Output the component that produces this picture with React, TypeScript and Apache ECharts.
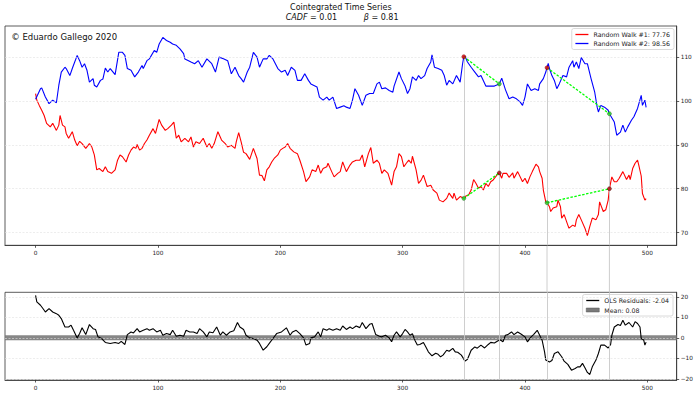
import React, { useEffect, useRef } from "react";
import * as echarts from "echarts";

// Random Walk #1 (red): [step, value]
const walk1: [number, number][] = [
  [0,101.7],[1,100.2],[3,99.0],[5,97.9],[7,96.7],[9,94.9],[12,94.1],[14,94.9],[17,93.3],[19,94.5],
  [20,96.7],[22,94.5],[24,94.1],[25,92.6],[27,91.5],[30,93.0],[32,91.1],[34,89.8],[36,90.8],[38,90.3],
  [41,89.2],[44,90.3],[46,89.5],[48,87.7],[50,84.3],[52,84.6],[55,83.9],[57,85.0],[59,83.9],[62,83.5],
  [65,84.3],[67,86.5],[69,87.7],[71,87.3],[74,86.1],[76,87.7],[78,88.8],[80,89.5],[82,89.2],[83,90.1],
  [85,88.8],[87,89.2],[89,90.3],[91,91.1],[93,92.2],[96,93.7],[98,92.6],[101,95.8],[103,94.5],[106,93.3],
  [108,93.7],[111,94.5],[113,95.2],[115,91.5],[117,92.2],[119,90.7],[122,91.5],[125,90.7],[127,91.8],[129,89.5],
  [131,90.7],[134,90.3],[137,91.5],[140,89.5],[142,90.3],[144,89.2],[146,90.3],[149,93.0],[152,91.1],[155,90.3],
  [157,89.5],[160,89.9],[163,89.2],[164,90.7],[166,92.8],[168,90.7],[170,88.3],[172,88.0],[175,86.7],[178,89.2],
  [181,86.9],[183,83.1],[185,83.0],[187,81.8],[189,84.3],[191,85.0],[193,86.1],[195,86.9],[198,87.7],[200,88.8],
  [202,89.2],[204,89.5],[206,90.3],[208,89.2],[211,88.4],[214,88.0],[216,86.5],[219,83.9],[221,81.6],[224,82.7],
  [226,84.3],[229,83.9],[231,85.4],[233,83.5],[235,84.6],[238,85.0],[239,85.8],[242,83.9],[244,82.7],[247,83.5],
  [249,83.9],[251,86.1],[254,83.9],[257,85.4],[259,86.1],[262,86.5],[265,86.5],[267,87.7],[269,85.0],[272,88.0],
  [274,89.4],[276,85.8],[279,86.5],[281,85.8],[283,83.5],[285,84.3],[288,83.5],[291,80.8],[293,83.9],[295,85.0],
  [297,88.0],[299,87.3],[301,85.0],[303,85.8],[305,86.5],[307,85.8],[308,87.4],[311,84.3],[313,81.2],[315,81.9],
  [317,83.1],[320,80.5],[323,80.8],[325,79.7],[328,79.0],[330,77.4],[333,77.0],[336,77.8],[338,79.0],[341,77.8],
  [342,79.0],[344,77.4],[347,78.2],[350,77.8],[351,78.2],[354,78.6],[356,79.7],[358,82.1],[360,81.2],[362,80.1],
  [364,80.5],[366,79.7],[368,81.2],[370,80.5],[372,81.6],[374,82.0],[377,83.1],[379,83.6],[381,82.4],[382,83.5],
  [385,83.5],[387,82.6],[390,83.6],[391,82.4],[394,83.9],[398,81.6],[400,82.4],[402,81.2],[404,82.7],[406,83.9],
  [409,85.6],[411,85.0],[412,83.9],[414,82.4],[415,79.7],[417,77.0],[418,76.8],[420,75.9],[421,74.8],[423,75.6],
  [426,75.9],[427,77.4],[429,75.9],[430,73.3],[432,74.1],[435,71.7],[436,71.0],[439,71.7],[441,71.4],[442,72.9],
  [444,74.1],[446,72.9],[449,71.0],[451,69.3],[453,71.4],[455,73.3],[458,72.9],[460,74.1],[461,77.0],[464,74.8],
  [466,75.2],[468,77.4],[469,80.0],[471,82.7],[473,81.6],[475,81.6],[477,82.4],[480,83.9],[483,82.1],[485,83.1],
  [486,82.1],[488,84.6],[490,85.8],[492,86.5],[493,85.4],[495,82.9],[496,78.9],[498,77.4],[499,77.76]
];

// Random Walk #2 (blue): [step, value]
const walk2: [number, number][] = [
  [0,100.4],[4,102.8],[5,103.0],[8,100.9],[11,99.4],[14,100.2],[17,99.6],[19,103.6],[21,106.6],[24,107.7],
  [25,107.4],[28,105.8],[30,107.4],[34,110.4],[36,109.2],[38,107.7],[40,108.5],[42,107.0],[44,104.3],[47,105.1],
  [48,103.6],[50,103.2],[53,104.7],[55,105.0],[57,107.5],[59,106.6],[61,107.4],[65,106.0],[68,111.1],[71,111.1],
  [73,110.4],[75,107.4],[78,107.0],[81,105.5],[84,106.6],[87,108.1],[88,107.4],[91,109.2],[93,109.6],[97,111.5],
  [99,111.1],[101,113.0],[104,114.5],[107,113.8],[110,113.4],[112,113.0],[115,112.7],[118,111.9],[121,110.8],[122,109.6],
  [125,109.2],[127,108.9],[130,108.5],[133,109.2],[136,107.7],[140,109.6],[144,108.5],[147,106.6],[150,110.0],[154,109.6],
  [157,109.2],[160,106.2],[163,107.7],[166,105.8],[168,105.1],[170,104.3],[173,106.6],[175,107.7],[178,111.1],[181,110.0],
  [183,107.7],[186,109.6],[189,109.6],[191,110.4],[194,109.6],[198,107.4],[201,106.6],[204,107.0],[206,105.8],[209,107.7],
  [212,107.0],[214,104.7],[217,104.7],[220,106.2],[223,104.7],[225,103.9],[230,103.2],[232,100.9],[235,100.2],[238,100.9],
  [240,100.2],[243,100.9],[246,98.3],[249,98.6],[252,98.9],[254,98.6],[257,98.3],[259,100.2],[261,102.8],[264,101.3],
  [267,99.0],[270,101.3],[273,101.7],[276,101.7],[279,103.9],[281,104.3],[283,102.8],[286,103.0],[289,102.4],[292,102.0],
  [293,103.4],[297,106.6],[299,105.1],[302,103.4],[304,101.7],[306,102.8],[308,105.5],[311,104.7],[313,105.8],[315,105.1],
  [318,105.8],[320,107.4],[323,108.9],[324,110.5],[326,107.7],[329,107.4],[332,107.0],[334,105.8],[336,103.6],[338,104.7],
  [341,103.9],[344,105.8],[347,104.3],[349,108.5],[350,110.1],[351,110.2],[353,108.9],[356,107.7],[359,106.6],[362,105.5],
  [364,105.8],[368,103.4],[371,103.4],[375,103.4],[379,103.9],[381,105.2],[384,102.6],[387,100.5],[390,100.9],[393,100.5],
  [396,99.8],[398,99.0],[400,100.9],[402,103.9],[405,102.4],[408,102.8],[411,102.4],[412,103.9],[415,105.1],[417,106.6],
  [418,107.6],[419,108.6],[420,107.4],[422,105.8],[424,104.7],[426,102.8],[428,103.9],[431,105.8],[434,105.5],[436,107.7],
  [439,109.2],[440,107.7],[442,108.9],[444,107.4],[446,109.9],[449,108.5],[451,108.5],[454,105.1],[457,102.0],[459,98.6],
  [460,97.5],[462,99.0],[465,98.6],[468,97.9],[469,97.1],[473,95.2],[475,92.2],[478,92.9],[480,94.5],[482,92.9],
  [484,94.1],[487,95.6],[489,96.4],[492,98.3],[495,101.3],[496,99.0],[498,100.2],[499,98.56]
];

// OLS residuals: [step, value]
const residuals: [number, number][] = [
  [0,20.7],[1,17.5],[4,15.9],[6,14.3],[8,12.6],[11,14.3],[14,12.6],[17,11.8],[19,11.0],[21,9.4],
  [24,5.3],[27,5.3],[29,6.2],[31,3.7],[34,0.0],[36,2.1],[38,4.9],[41,1.6],[44,6.5],[47,4.5],
  [49,4.1],[51,0.5],[54,-0.3],[57,-2.2],[61,-2.7],[65,-2.2],[68,-2.7],[70,-1.7],[73,-3.2],[75,1.6],
  [78,2.9],[80,2.4],[83,4.5],[85,2.9],[88,3.7],[91,4.5],[93,3.7],[96,4.5],[99,2.9],[102,3.7],
  [104,1.3],[107,2.1],[110,1.6],[112,3.7],[115,0.8],[118,1.3],[121,0.8],[123,3.7],[126,2.9],[129,2.9],
  [132,2.1],[134,4.5],[137,2.9],[140,0.5],[142,2.9],[145,2.5],[148,5.3],[151,1.3],[153,2.9],[156,1.3],
  [159,2.9],[162,3.5],[165,7.5],[167,5.3],[170,4.1],[172,1.3],[175,0.0],[178,-0.3],[181,-1.1],[183,-2.7],
  [186,-6.0],[189,-4.3],[191,-2.7],[194,-0.3],[197,2.1],[201,2.9],[205,4.9],[208,1.3],[210,2.9],[213,3.7],
  [216,2.1],[219,0.0],[221,-3.5],[224,-2.7],[225,0.0],[228,0.5],[231,2.9],[233,0.5],[235,4.5],[238,3.7],
  [240,4.5],[243,3.7],[246,4.5],[249,3.7],[251,5.8],[254,4.1],[257,5.3],[259,4.5],[262,5.8],[265,5.0],
  [267,7.5],[270,4.5],[273,6.6],[275,7.0],[278,1.6],[281,0.8],[283,0.5],[286,1.3],[289,0.0],[291,-1.9],
  [293,1.3],[295,2.9],[298,0.5],[300,2.1],[302,4.1],[304,2.9],[306,1.3],[308,2.0],[310,-1.1],[312,-3.5],
  [314,-3.2],[317,-2.2],[319,-4.4],[321,-6.8],[324,-8.7],[327,-7.5],[329,-8.0],[331,-9.2],[333,-8.4],[336,-6.0],
  [338,-6.5],[341,-5.1],[343,-6.8],[345,-7.0],[348,-8.4],[351,-11.3],[353,-10.4],[356,-6.0],[359,-4.4],[361,-5.0],
  [364,-3.5],[367,-4.9],[370,-3.2],[372,-2.2],[375,-2.5],[378,-1.4],[380,-1.0],[382,-1.9],[384,1.3],[386,1.6],
  [389,2.9],[391,1.6],[394,2.9],[397,1.8],[400,0.5],[402,-1.9],[405,0.5],[407,1.6],[410,3.7],[412,1.3],
  [414,-1.1],[416,-6.8],[417,-10.8],[420,-11.7],[422,-11.0],[424,-7.6],[427,-6.8],[430,-9.2],[432,-11.3],[435,-12.9],
  [438,-15.7],[441,-14.9],[443,-14.1],[445,-14.1],[447,-12.4],[449,-14.5],[451,-16.8],[453,-17.8],[455,-14.1],[458,-10.8],
  [460,-7.6],[462,-3.5],[465,-3.5],[468,-4.9],[470,-3.2],[471,1.3],[473,5.3],[476,6.5],[478,6.0],[480,8.6],
  [482,6.2],[485,7.5],[488,5.3],[490,7.9],[492,7.0],[494,5.3],[495,-0.3],[497,-1.0],[498,-3.5],[499,-2.04]
];

const residualMean = 0.08;
const cadf = "0.01";
const beta = "0.81";

// Pair-trade windows: start / end steps and the walk values there
const windowStart = [350, 418];
const windowEnd = [379, 469];
const walk2StartVals = [110.1, 107.6];
const walk2EndVals = [103.9, 97.1];
const walk1StartVals = [77.8, 76.8];
const walk1EndVals = [83.6, 80.0];

const xTicks = [0, 100, 200, 300, 400, 500];
const topYTicks = [70, 80, 90, 100, 110];
const bottomYTicks = [-20, -10, 0, 10, 20];

const X_MIN = -25;
const X_MAX = 524;
const TOP_MIN = 67.1;
const TOP_MAX = 117.1;
const BOT_MIN = -20.5;
const BOT_MAX = 22.2;

const FONT = "DejaVu Sans";

export default function App() {
  const ref = useRef<HTMLDivElement>(null);

  useEffect(() => {
    if (!ref.current) return;
    const chart = echarts.init(ref.current, null, { renderer: "svg" });

    const name1 = "Random Walk #1: " + walk1[walk1.length - 1][1].toFixed(2);
    const name2 = "Random Walk #2: " + walk2[walk2.length - 1][1].toFixed(2);
    const nameRes = "OLS Residuals: " + residuals[residuals.length - 1][1].toFixed(2);
    const nameMean = "Mean: " + residualMean.toFixed(2);

    const tickLabel = { fontFamily: FONT, fontSize: 5.8, color: "#222" };
    const minus = (v: number) => String(v).replace("-", "\u2212");

    const xAxisBase = (gridIndex: number, margin: number) => ({
      gridIndex,
      type: "value",
      min: X_MIN,
      max: X_MAX,
      axisLine: { show: true, onZero: false, lineStyle: { color: "#333", width: 0.8 } },
      axisTick: { show: true, customValues: xTicks, length: 2.5, lineStyle: { color: "#333", width: 0.8 } },
      axisLabel: { show: true, customValues: xTicks, margin, ...tickLabel },
      splitLine: { show: false },
    });

    const yAxisBase = (gridIndex: number, min: number, max: number, ticks: number[]) => ({
      gridIndex,
      type: "value",
      position: "right",
      min,
      max,
      axisLine: { show: true, onZero: false, lineStyle: { color: "#333", width: 0.8 } },
      axisTick: { show: true, customValues: ticks, length: 2.5, lineStyle: { color: "#333", width: 0.8 } },
      axisLabel: { show: true, customValues: ticks, margin: 4, formatter: (v: number) => minus(v), ...tickLabel },
      splitLine: { show: false },
    });

    const gridLineStyle = { color: "#e0e0e0", type: [2, 1.5], width: 0.6 };

    const topVertical = windowStart.concat(windowEnd).map((x, k) => {
      const v = k < 2 ? walk2StartVals[k] : walk2EndVals[k - 2];
      return [{ coord: [x, v] }, { coord: [x, TOP_MIN] }];
    });

    const legendCommon = {
      orient: "vertical",
      itemWidth: 13,
      itemGap: 3,
      padding: [3, 4, 3, 3],
      borderColor: "#d0d0d0",
      borderWidth: 0.8,
      borderRadius: 2,
      backgroundColor: "rgba(255,255,255,0.85)",
      textStyle: { fontFamily: FONT, fontSize: 6.3, color: "#222" },
      selectedMode: false,
    };

    const option: any = {
      animation: false,
      backgroundColor: "#fff",
      grid: [
        { left: 5, right: 23.3, top: 26, height: 219.3, show: true, borderColor: "#333", borderWidth: 0.8, containLabel: false },
        { left: 5, right: 23.3, top: 292.3, height: 87.7, show: true, borderColor: "#333", borderWidth: 0.8, containLabel: false },
      ],
      xAxis: [xAxisBase(0, 5), xAxisBase(1, 4.5)],
      yAxis: [
        yAxisBase(0, TOP_MIN, TOP_MAX, topYTicks),
        yAxisBase(1, BOT_MIN, BOT_MAX, bottomYTicks),
      ],
      legend: [
        {
          ...legendCommon,
          data: [
            { name: name1, itemStyle: { opacity: 0 } },
            { name: name2, itemStyle: { opacity: 0 } },
          ],
          right: 26,
          top: 28.5,
          itemHeight: 6,
          lineStyle: { width: 1.3 },
        },
        {
          ...legendCommon,
          data: [
            { name: nameRes, itemStyle: { opacity: 0 }, lineStyle: { width: 1.3 } },
            { name: nameMean, icon: "rect", itemStyle: { opacity: 1, color: "#7a7a7a", borderColor: "#555", borderWidth: 0.5 } },
          ],
          right: 27,
          top: 294.5,
          itemHeight: 4,
          itemGap: 3.5,
        },
      ],
      series: [
        {
          name: "grid-top",
          type: "line",
          xAxisIndex: 0,
          yAxisIndex: 0,
          data: [],
          silent: true,
          z: 0,
          markLine: {
            silent: true,
            symbol: "none",
            label: { show: false },
            lineStyle: gridLineStyle,
            data: topYTicks.map((v) => ({ yAxis: v })),
          },
        },
        {
          name: "vlines-top",
          type: "line",
          xAxisIndex: 0,
          yAxisIndex: 0,
          data: [],
          silent: true,
          z: 0,
          markLine: {
            silent: true,
            symbol: "none",
            label: { show: false },
            lineStyle: { color: "#c8c8c8", type: "solid", width: 0.9 },
            data: topVertical,
          },
        },
        {
          name: name1,
          type: "line",
          xAxisIndex: 0,
          yAxisIndex: 0,
          data: walk1,
          symbol: "none",
          color: "#ff0000",
          lineStyle: { color: "#ff0000", width: 1.1 },
          z: 3,
          markLine: {
            silent: true,
            symbol: "none",
            label: { show: false },
            lineStyle: { color: "#00ff00", type: [2.5, 1.5], width: 1.3 },
            data: windowStart.map((s, k) => [
              { coord: [s, walk1StartVals[k]] },
              { coord: [windowEnd[k], walk1EndVals[k]] },
            ]),
          },
        },
        {
          name: name2,
          type: "line",
          xAxisIndex: 0,
          yAxisIndex: 0,
          data: walk2,
          symbol: "none",
          color: "#0000ff",
          lineStyle: { color: "#0000ff", width: 1.1 },
          z: 3,
          markLine: {
            silent: true,
            symbol: "none",
            label: { show: false },
            lineStyle: { color: "#00ff00", type: [2.5, 1.5], width: 1.3 },
            data: windowStart.map((s, k) => [
              { coord: [s, walk2StartVals[k]] },
              { coord: [windowEnd[k], walk2EndVals[k]] },
            ]),
          },
        },
        {
          name: "markers-start-2",
          type: "scatter",
          xAxisIndex: 0,
          yAxisIndex: 0,
          symbolSize: 4,
          z: 5,
          itemStyle: { color: "#dd0000", borderColor: "#660000", borderWidth: 0.5 },
          data: windowStart.map((s, k) => [s, walk2StartVals[k]]),
        },
        {
          name: "markers-end-2",
          type: "scatter",
          xAxisIndex: 0,
          yAxisIndex: 0,
          symbolSize: 4,
          z: 5,
          itemStyle: { color: "#22cc22", borderColor: "#115511", borderWidth: 0.5 },
          data: windowEnd.map((e, k) => [e, walk2EndVals[k]]),
        },
        {
          name: "markers-start-1",
          type: "scatter",
          xAxisIndex: 0,
          yAxisIndex: 0,
          symbolSize: 4,
          z: 5,
          itemStyle: { color: "#22cc22", borderColor: "#115511", borderWidth: 0.5 },
          data: windowStart.map((s, k) => [s, walk1StartVals[k]]),
        },
        {
          name: "markers-end-1",
          type: "scatter",
          xAxisIndex: 0,
          yAxisIndex: 0,
          symbolSize: 4,
          z: 5,
          itemStyle: { color: "#aa0000", borderColor: "#330000", borderWidth: 0.5 },
          data: windowEnd.map((e, k) => [e, walk1EndVals[k]]),
        },
        {
          name: "grid-bottom",
          type: "line",
          xAxisIndex: 1,
          yAxisIndex: 1,
          data: [],
          silent: true,
          z: 0,
          markLine: {
            silent: true,
            symbol: "none",
            label: { show: false },
            lineStyle: gridLineStyle,
            data: bottomYTicks.map((v) => ({ yAxis: v })),
          },
        },
        {
          name: "vlines-bottom",
          type: "line",
          xAxisIndex: 1,
          yAxisIndex: 1,
          data: [],
          silent: true,
          z: 0,
          markLine: {
            silent: true,
            symbol: "none",
            label: { show: false },
            lineStyle: { color: "#c8c8c8", type: "solid", width: 0.9 },
            data: windowStart.concat(windowEnd).map((x) => ({ xAxis: x })),
          },
        },
        {
          name: nameMean,
          type: "line",
          xAxisIndex: 1,
          yAxisIndex: 1,
          data: [[X_MIN, residualMean], [X_MAX, residualMean]],
          symbol: "none",
          color: "#7a7a7a",
          lineStyle: { color: "#7a7a7a", width: 5, opacity: 0.9 },
          itemStyle: { color: "#7a7a7a" },
          z: 2,
        },
        {
          name: nameRes,
          type: "line",
          xAxisIndex: 1,
          yAxisIndex: 1,
          data: residuals,
          symbol: "none",
          color: "#000",
          lineStyle: { color: "#000", width: 1.1 },
          z: 3,
        },
      ],
      graphic: [
        {
          type: "text",
          x: 340.8,
          y: 7,
          style: {
            text: "Cointegrated Time Series",
            font: `8px "${FONT}"`,
            fill: "#111",
            align: "center",
            verticalAlign: "middle",
          },
        },
        {
          type: "text",
          x: 285.7,
          y: 17.5,
          style: {
            text: "{i|CADF} = " + cadf,
            font: `8px "${FONT}"`,
            fill: "#111",
            verticalAlign: "middle",
            rich: { i: { fontStyle: "italic", fontFamily: FONT, fontSize: 8, fill: "#111" } },
          },
        },
        {
          type: "text",
          x: 363.8,
          y: 17.5,
          style: {
            text: "{i|\u03b2} = " + beta,
            font: `8px "${FONT}"`,
            fill: "#111",
            verticalAlign: "middle",
            rich: { i: { fontStyle: "italic", fontFamily: FONT, fontSize: 8, fill: "#111" } },
          },
        },
        {
          type: "text",
          x: 11.2,
          y: 36.5,
          style: {
            text: "\u00a9 Eduardo Gallego 2020",
            font: `8.5px "${FONT}"`,
            fill: "#111",
            verticalAlign: "middle",
          },
        },
      ],
    };

    chart.setOption(option);

    // connector lines between the two panels, positioned through the axes' scales
    const connectors: any[] = [];
    windowStart.concat(windowEnd).forEach((x) => {
      const a = chart.convertToPixel({ gridIndex: 0 }, [x, TOP_MIN]) as number[];
      const b = chart.convertToPixel({ gridIndex: 1 }, [x, BOT_MAX]) as number[];
      if (a && b) {
        connectors.push({
          type: "line",
          z: 0,
          shape: { x1: a[0], y1: a[1], x2: b[0], y2: b[1] },
          style: { stroke: "#c8c8c8", lineWidth: 0.9 },
        });
      }
    });
    chart.setOption({ graphic: option.graphic.concat(connectors) });

    return () => chart.dispose();
  }, []);

  return (
    <div
      ref={ref}
      style={{ position: "fixed", left: 0, top: 0, width: 700, height: 395 }}
    />
  );
}
